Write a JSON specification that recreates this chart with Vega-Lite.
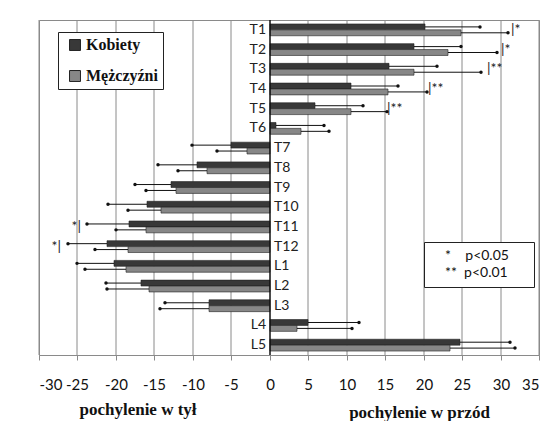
{
  "$schema": "https://vega.github.io/schema/vega-lite/v6.json",
  "width": 500,
  "height": 335,
  "autosize": {"type": "none"},
  "padding": {"left": 39, "top": 20, "right": 18, "bottom": 66},
  "background": "white",
  "config": {
    "view": {"stroke": "#8a8a8a", "strokeWidth": 1},
    "axisX": {
      "tickCount": 13,
      "labelOverlap": false,
      "labelExpr": "datum.value < 0 ? '-' + abs(datum.value) : '' + datum.value",
      "grid": false,
      "domainColor": "#8a8a8a", "tickColor": "#8a8a8a", "tickSize": 5,
      "labelFont": "Lato", "labelFontSize": 15, "labelColor": "#111", "labelPadding": 17,
      "titleFont": "Liberation Serif", "titleFontSize": 17, "titleFontWeight": "bold", "titleColor": "#111",
      "titleX": 380, "titleY": 57, "titleBaseline": "middle"
    }
  },
  "datasets": {
    "grid": [
      {"g": -30}, {"g": -25}, {"g": -20}, {"g": -15}, {"g": -10}, {"g": -5}, {"g": 5},
      {"g": 10}, {"g": 15}, {"g": 20}, {"g": 25}, {"g": 30}, {"g": 35}
    ],
    "bars": [
      {"cat": "T1", "sex": "Kobiety", "val": 20.2, "err": 27.3},
      {"cat": "T1", "sex": "Mężczyźni", "val": 24.9, "err": 31.0},
      {"cat": "T2", "sex": "Kobiety", "val": 18.7, "err": 24.8},
      {"cat": "T2", "sex": "Mężczyźni", "val": 23.2, "err": 29.6},
      {"cat": "T3", "sex": "Kobiety", "val": 15.5, "err": 21.7},
      {"cat": "T3", "sex": "Mężczyźni", "val": 18.8, "err": 27.4},
      {"cat": "T4", "sex": "Kobiety", "val": 10.6, "err": 16.7},
      {"cat": "T4", "sex": "Mężczyźni", "val": 15.4, "err": 20.4},
      {"cat": "T5", "sex": "Kobiety", "val": 5.9, "err": 12.1},
      {"cat": "T5", "sex": "Mężczyźni", "val": 10.6, "err": 15.2},
      {"cat": "T6", "sex": "Kobiety", "val": 0.8, "err": 7.1},
      {"cat": "T6", "sex": "Mężczyźni", "val": 4.1, "err": 7.7},
      {"cat": "T7", "sex": "Kobiety", "val": -5.0, "err": -10.1},
      {"cat": "T7", "sex": "Mężczyźni", "val": -2.9, "err": -6.8},
      {"cat": "T8", "sex": "Kobiety", "val": -9.5, "err": -14.5},
      {"cat": "T8", "sex": "Mężczyźni", "val": -8.1, "err": -11.9},
      {"cat": "T9", "sex": "Kobiety", "val": -12.9, "err": -17.5},
      {"cat": "T9", "sex": "Mężczyźni", "val": -12.2, "err": -16.1},
      {"cat": "T10", "sex": "Kobiety", "val": -16.0, "err": -21.0},
      {"cat": "T10", "sex": "Mężczyźni", "val": -14.2, "err": -18.4},
      {"cat": "T11", "sex": "Kobiety", "val": -18.3, "err": -23.7},
      {"cat": "T11", "sex": "Mężczyźni", "val": -16.1, "err": -20.0},
      {"cat": "T12", "sex": "Kobiety", "val": -21.1, "err": -26.2},
      {"cat": "T12", "sex": "Mężczyźni", "val": -18.4, "err": -22.7},
      {"cat": "L1", "sex": "Kobiety", "val": -20.3, "err": -25.0},
      {"cat": "L1", "sex": "Mężczyźni", "val": -18.7, "err": -24.0},
      {"cat": "L2", "sex": "Kobiety", "val": -16.7, "err": -21.3},
      {"cat": "L2", "sex": "Mężczyźni", "val": -15.7, "err": -21.1},
      {"cat": "L3", "sex": "Kobiety", "val": -7.9, "err": -13.6},
      {"cat": "L3", "sex": "Mężczyźni", "val": -7.9, "err": -14.3},
      {"cat": "L4", "sex": "Kobiety", "val": 5.0, "err": 11.6},
      {"cat": "L4", "sex": "Mężczyźni", "val": 3.5, "err": 10.7},
      {"cat": "L5", "sex": "Kobiety", "val": 24.7, "err": 31.2},
      {"cat": "L5", "sex": "Mężczyźni", "val": 23.4, "err": 31.9}
    ],
    "sig": [
      {"cat": "T1", "sig": "*", "label": "|*", "sx": 31.3},
      {"cat": "T2", "sig": "*", "label": "|*", "sx": 30.0},
      {"cat": "T3", "sig": "**", "label": "|**", "sx": 28.2},
      {"cat": "T4", "sig": "**", "label": "|**", "sx": 20.6},
      {"cat": "T5", "sig": "**", "label": "|**", "sx": 15.3},
      {"cat": "T11", "sig": "*", "label": "*|", "sx": -24.6},
      {"cat": "T12", "sig": "*", "label": "*|", "sx": -27.2}
    ]
  },
  "title": {
    "text": "pochylenie w tył",
    "orient": "bottom",
    "anchor": "start",
    "align": "center",
    "dx": 99,
    "offset": -18,
    "frame": "group",
    "font": "Liberation Serif",
    "fontSize": 17,
    "fontWeight": "bold",
    "color": "#111"
  },
  "layer": [
    {
      "data": {"name": "grid"},
      "mark": {"type": "rule", "color": "#8a8a8a", "strokeWidth": 1},
      "encoding": {
        "x": {"field": "g", "type": "quantitative", "title": "pochylenie w przód",
              "scale": {"domain": [-30, 35], "nice": false, "zero": false, "round": true}}
      }
    },
    {
      "data": {"name": "bars"},
      "mark": {"type": "bar", "stroke": "#222", "strokeWidth": 0.6},
      "encoding": {
        "y": {"field": "cat", "type": "nominal", "axis": null,
              "scale": {"domain": ["T1","T2","T3","T4","T5","T6","T7","T8","T9","T10","T11","T12","L1","L2","L3","L4","L5"], "paddingInner": 0.4, "paddingOuter": 0.2}},
        "yOffset": {"field": "sex", "type": "nominal", "scale": {"domain": ["Kobiety", "Mężczyźni"], "paddingInner": 0, "paddingOuter": 0}},
        "x": {"field": "val", "type": "quantitative", "title": "pochylenie w przód"},
        "color": {"field": "sex", "type": "nominal",
                  "scale": {"domain": ["Kobiety", "Mężczyźni"], "range": ["#383838", "#878787"]},
                  "legend": {"orient": "none", "legendX": 19, "legendY": 12, "title": null,
                             "strokeColor": "#222", "fillColor": "white", "padding": 5,
                             "labelFont": "Liberation Serif", "labelFontWeight": "bold", "labelFontSize": 16, "labelColor": "#111",
                             "symbolType": "square", "symbolSize": 120, "symbolStrokeColor": "#222", "symbolStrokeWidth": 1,
                             "symbolOffset": 4, "rowPadding": 15, "labelOffset": 3,
                             "labelExpr": "datum.label + '\u00a0\u00a0'"}}
      }
    },
    {
      "data": {"name": "bars"},
      "mark": {"type": "rule", "color": "#111", "strokeWidth": 1},
      "encoding": {
        "y": {"field": "cat", "type": "nominal"},
        "yOffset": {"field": "sex", "type": "nominal"},
        "x": {"field": "val", "type": "quantitative", "title": "pochylenie w przód"},
        "x2": {"field": "err"}
      }
    },
    {
      "data": {"name": "bars"},
      "mark": {"type": "point", "filled": true, "color": "#111", "size": 12, "opacity": 1},
      "encoding": {
        "y": {"field": "cat", "type": "nominal"},
        "yOffset": {"field": "sex", "type": "nominal"},
        "x": {"field": "err", "type": "quantitative", "title": "pochylenie w przód"}
      }
    },
    {
      "data": {"values": [{"z": 0}]},
      "mark": {"type": "rule", "color": "#111", "strokeWidth": 1.5},
      "encoding": {
        "x": {"field": "z", "type": "quantitative", "title": "pochylenie w przód"}
      }
    },
    {
      "data": {"name": "bars"},
      "transform": [{"filter": "datum.sex == 'Kobiety' && datum.val > 0"}],
      "mark": {"type": "text", "align": "right", "baseline": "middle", "dx": -4, "font": "Lato", "fontSize": 14, "color": "#222"},
      "encoding": {
        "y": {"field": "cat", "type": "nominal"},
        "x": {"datum": 0, "type": "quantitative", "title": "pochylenie w przód"},
        "text": {"field": "cat"}
      }
    },
    {
      "data": {"name": "bars"},
      "transform": [{"filter": "datum.sex == 'Kobiety' && datum.val < 0"}],
      "mark": {"type": "text", "align": "left", "baseline": "middle", "dx": 4, "font": "Lato", "fontSize": 14, "color": "#222"},
      "encoding": {
        "y": {"field": "cat", "type": "nominal"},
        "x": {"datum": 0, "type": "quantitative", "title": "pochylenie w przód"},
        "text": {"field": "cat"}
      }
    },
    {
      "data": {"name": "sig"},
      "transform": [{"filter": "datum.sx > 0"}],
      "mark": {"type": "text", "align": "left", "baseline": "middle", "font": "Lato", "fontSize": 14, "color": "#222"},
      "encoding": {
        "y": {"field": "cat", "type": "nominal"},
        "x": {"field": "sx", "type": "quantitative", "title": "pochylenie w przód"},
        "text": {"field": "label"},
        "opacity": {"field": "sig", "type": "nominal",
                    "scale": {"domain": ["*", "**"], "range": [1, 1]},
                    "legend": {"orient": "none", "legendX": 385, "legendY": 222,
                               "title": "mm", "titleOrient": "right", "titleAngle": 0, "titleFontSize": 10, "titleColor": "white", "titlePadding": 0,
                               "strokeColor": "#222", "fillColor": "white", "padding": 7,
                               "symbolSize": 0, "symbolStrokeWidth": 0, "labelOffset": 0, "labelAlign": "left",
                               "labelFont": "Lato", "labelFontSize": 14, "labelColor": "#111", "rowPadding": 3,
                               "labelExpr": "datum.label == '*' ? '*\u00a0\u00a0\u00a0\u00a0p<0.05' : '**\u00a0\u00a0p<0.01'"}}
      }
    },
    {
      "data": {"name": "sig"},
      "transform": [{"filter": "datum.sx < 0"}],
      "mark": {"type": "text", "align": "right", "baseline": "middle", "font": "Lato", "fontSize": 14, "color": "#222"},
      "encoding": {
        "y": {"field": "cat", "type": "nominal"},
        "x": {"field": "sx", "type": "quantitative", "title": "pochylenie w przód"},
        "text": {"field": "label"},
        "opacity": {"field": "sig", "type": "nominal"}
      }
    }
  ]
}
